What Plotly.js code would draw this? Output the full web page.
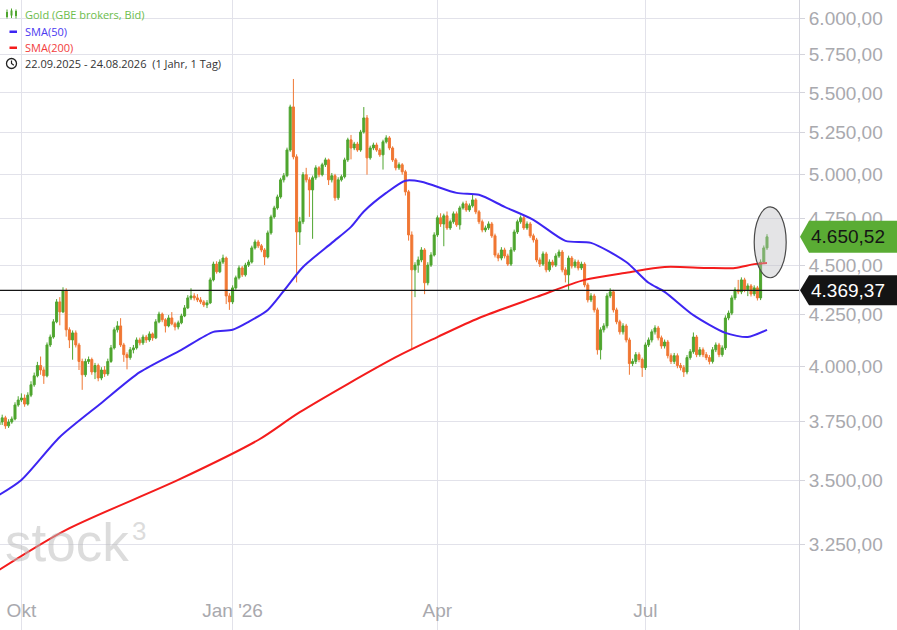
<!DOCTYPE html>
<html>
<head>
<meta charset="utf-8">
<script src="https://cdn.plot.ly/plotly-3.0.1.min.js"></script>
<style>
  html, body { margin: 0; padding: 0; background: #ffffff; }
  #chart { width: 897px; height: 630px; }
</style>
</head>
<body>
<div id="chart"></div>
<script>
// ---------- DATA ----------
const startDate = '2025-09-22';
const firstOpen = 3735;

const closes = [
  3748,3766,3731,3748,3761,3823,3845,3854,3827,3867,
  3914,3955,4003,3982,3955,4100,4138,4212,4311,4261,
  4367,4173,4124,4158,4100,4022,3960,4022,4031,3973,
  4003,3945,3982,3964,4022,4086,4173,4192,4100,4054,
  4040,4077,4086,4124,4110,4138,4124,4153,4134,4212,
  4250,4222,4192,4231,4202,4187,4207,4241,4281,4331,
  4341,4331,4321,4311,4296,4306,4423,4505,4465,4516,
  4537,4341,4311,4382,4434,4485,4449,4500,4516,4591,
  4623,4602,4580,4543,4672,4760,4810,4872,4970,4994,
  5146,5411,5105,4677,4733,5000,4970,4912,4982,5040,
  5000,5058,5087,4970,4994,4867,4970,4988,5087,5207,
  5158,5182,5146,5255,5342,5099,5158,5176,5146,5117,
  5195,5219,5158,5087,5040,5058,5017,4901,4661,4475,
  4500,4527,4580,4408,4500,4553,4661,4755,4721,4766,
  4699,4733,4777,4716,4810,4833,4799,4822,4855,4788,
  4733,4688,4699,4721,4656,4553,4537,4580,4548,4505,
  4580,4677,4733,4755,4699,4721,4656,4634,4527,4505,
  4559,4475,4516,4500,4548,4569,4475,4449,4537,4495,
  4516,4485,4505,4397,4321,4341,4271,4077,4173,4192,
  4341,4362,4271,4212,4163,4192,4124,4012,4022,4054,
  4031,3993,4100,4124,4163,4182,4134,4095,4114,4049,
  4022,4049,4003,3993,3973,4040,4068,4138,4054,4077,
  4054,4040,4022,4077,4100,4054,4086,4231,4255,4331,
  4372,4362,4423,4372,4392,4351,4382,4331,4516,4591,
  4650.52
];

const highs = [
  3762,3780,3775,3760,3772,3835,3862,3875,3870,3880,
  3930,3970,4020,4045,3995,4112,4150,4225,4325,4335,
  4385,4380,4185,4170,4170,4110,4035,4035,4045,4040,
  4015,4012,3995,4000,4035,4100,4185,4215,4230,4110,
  4065,4090,4100,4136,4135,4150,4148,4165,4160,4225,
  4262,4258,4230,4245,4260,4212,4218,4252,4295,4345,
  4380,4355,4350,4335,4320,4320,4435,4518,4520,4530,
  4555,4545,4355,4395,4445,4498,4495,4512,4528,4603,
  4636,4634,4612,4590,4685,4772,4822,4885,4982,5010,
  5160,5425,5590,5120,4760,5015,5040,4985,4995,5055,
  5050,5070,5100,5095,5010,5005,4985,5000,5100,5220,
  5237,5195,5195,5268,5410,5360,5172,5190,5190,5158,
  5208,5235,5230,5168,5098,5072,5068,5028,4912,4680,
  4515,4545,4595,4590,4515,4568,4675,4768,4780,4778,
  4790,4745,4790,4790,4822,4845,4850,4835,4885,4865,
  4798,4745,4712,4735,4732,4668,4565,4595,4592,4560,
  4595,4690,4745,4768,4766,4735,4732,4668,4645,4540,
  4572,4570,4530,4528,4562,4582,4580,4488,4550,4548,
  4530,4528,4518,4515,4408,4355,4352,4282,4185,4205,
  4355,4380,4372,4282,4222,4205,4202,4135,4035,4066,
  4065,4040,4112,4136,4175,4195,4192,4145,4126,4124,
  4060,4062,4060,4015,4005,4052,4080,4160,4148,4090,
  4088,4066,4052,4090,4112,4110,4098,4244,4268,4344,
  4385,4423,4436,4434,4405,4402,4395,4392,4530,4604,
  4665
];

const lows = [
  3680,3735,3718,3722,3740,3755,3815,3836,3815,3820,
  3858,3905,3948,3960,3918,3948,4090,4130,4205,4195,
  4255,4140,4085,4030,4088,3982,3891,3950,4010,3960,
  3940,3930,3935,3950,3955,4015,4078,4160,4090,4020,
  3985,4030,4060,4078,4098,4100,4110,4115,4120,4128,
  4205,4210,4160,4185,4195,4170,4175,4200,4235,4275,
  4320,4318,4310,4300,4285,4280,4300,4415,4455,4458,
  4505,4300,4271,4300,4372,4425,4438,4440,4490,4508,
  4582,4590,4568,4500,4535,4662,4750,4800,4862,4955,
  4985,5135,5090,4410,4607,4720,4955,4760,4640,4970,
  4985,4990,5045,4940,4955,4850,4855,4960,4978,5075,
  5090,5145,5135,5135,5245,5000,5088,5145,5135,5105,
  5030,5185,5145,5075,5025,5028,5000,4880,4630,4080,
  4335,4460,4515,4350,4395,4490,4545,4650,4705,4600,
  4688,4688,4722,4705,4690,4800,4788,4788,4812,4775,
  4720,4675,4676,4688,4645,4540,4520,4525,4535,4495,
  4495,4570,4666,4722,4688,4688,4645,4620,4515,4490,
  4495,4462,4465,4488,4490,4538,4462,4410,4372,4482,
  4484,4472,4474,4385,4308,4310,4258,4054,4031,4160,
  4180,4330,4258,4200,4150,4150,4112,3960,4000,4010,
  4018,3950,3982,4090,4112,4150,4122,4082,4083,4036,
  4010,4010,3990,3980,3950,3962,4030,4058,4042,4044,
  4042,4028,4008,4012,4066,4042,4044,4076,4220,4245,
  4320,4350,4350,4360,4340,4338,4340,4318,4320,4505,
  4580
];

const sma50Dates = ['2025-09-22','2025-10-01','2025-10-17','2025-11-05','2025-11-21','2025-12-10','2025-12-24',
  '2026-01-01','2026-01-08','2026-01-16','2026-01-23','2026-02-02','2026-02-13','2026-02-23','2026-02-27',
  '2026-03-10','2026-03-18','2026-03-25','2026-04-09','2026-04-20','2026-04-30','2026-05-13','2026-05-27',
  '2026-06-08','2026-06-23','2026-07-02','2026-07-09','2026-07-22','2026-08-05','2026-08-14','2026-08-24'];
const sma50Values = [3442,3503,3683,3832,3972,4077,4163,
  4173,4212,4271,4367,4490,4618,4705,4790,
  4895,4965,4959,4895,4884,4816,4744,4629,
  4618,4516,4408,4362,4245,4158,4138,4173];

const sma200Dates = ['2025-09-22','2025-10-21','2025-12-09','2026-01-13','2026-01-30','2026-03-13','2026-04-01',
  '2026-04-20','2026-05-14','2026-06-04','2026-06-23','2026-07-09','2026-07-28','2026-08-10','2026-08-18','2026-08-24'];
const sma200Values = [3154,3305,3503,3670,3791,4042,4138,
  4231,4336,4423,4460,4490,4485,4485,4505,4511];

const yTickValues = [3000,3250,3500,3750,4000,4250,4500,4750,5000,5250,5500,5750,6000];
const xTickDates = ['2025-10-01','2026-01-01','2026-04-01','2026-07-01'];
const xTickLabels = ['Okt', "Jan '26", 'Apr', 'Jul'];

const lineLevel = 4369.37;        // horizontal marker line
const lastPrice = 4650.52;        // current price tag
const highlightFrom = '2026-08-18', highlightTo = '2026-09-01';
const highlightLow = 4434, highlightHigh = 4816;

const legendTitle = 'Gold (GBE brokers, Bid)';
const legendSma50 = 'SMA(50)';
const legendSma200 = 'SMA(200)';
const legendRange = '22.09.2025 - 24.08.2026  (1 Jahr, 1 Tag)';
const watermarkWord = 'stock';
const watermarkMark = '3';

// ---------- BUILD ----------
const NOON = ' 12:00';
function tradingDays(start, n) {
  const out = [];
  const d = new Date(start + 'T12:00:00Z');
  while (out.length < n) {
    const wd = d.getUTCDay();
    if (wd !== 0 && wd !== 6) out.push(d.toISOString().slice(0, 10) + NOON);
    d.setUTCDate(d.getUTCDate() + 1);
  }
  return out;
}
const dates = tradingDays(startDate, closes.length);
const opens = closes.map((c, i) => i === 0 ? firstOpen : closes[i - 1]);

function de(v) {
  const s = v.toFixed(2).split('.');
  return s[0].replace(/\B(?=(\d{3})+(?!\d))/g, '.') + ',' + s[1];
}

const GREEN = '#4fa52f', ORANGE = '#f07733', BLUE = '#3d25f2', RED = '#f41c1c';
const FONT = 'Liberation Sans, Arial, sans-serif';
const LFONT = 'Open Sans, Noto Sans, sans-serif';

const traces = [
  {
    type: 'scatter', mode: 'lines', x: sma200Dates.map(d => d + NOON), y: sma200Values,
    line: { color: RED, width: 2, shape: 'spline', smoothing: 0.8 }, hoverinfo: 'skip'
  },
  {
    type: 'scatter', mode: 'lines', x: sma50Dates.map(d => d + NOON), y: sma50Values,
    line: { color: BLUE, width: 2, shape: 'spline', smoothing: 0.7 }, hoverinfo: 'skip'
  },
  {
    type: 'candlestick', x: dates, open: opens, high: highs, low: lows, close: closes,
    increasing: { line: { color: GREEN, width: 1 }, fillcolor: GREEN },
    decreasing: { line: { color: ORANGE, width: 1 }, fillcolor: ORANGE },
    hoverinfo: 'skip'
  }
];

const W = 799, H = 630;
const px = x => x / W;
const py = y => 1 - y / H;

const shapes = [
  { type: 'circle', xref: 'x', yref: 'y', x0: highlightFrom + NOON, x1: highlightTo + NOON,
    y0: highlightLow, y1: highlightHigh, layer: 'above',
    fillcolor: 'rgba(190,190,195,0.42)', line: { color: '#4a4a4a', width: 1.2 } },
  { type: 'line', xref: 'paper', x0: 0, x1: 1, yref: 'y', y0: lineLevel, y1: lineLevel,
    line: { color: '#151515', width: 1.2 }, layer: 'above' },
  { type: 'path', xref: 'paper', xsizemode: 'pixel', xanchor: 1, yref: 'y', ysizemode: 'pixel',
    yanchor: lastPrice, path: 'M 1 0 L 10 16 L 98 16 L 98 -16 L 10 -16 Z',
    fillcolor: '#5aac34', line: { width: 0 }, layer: 'above' },
  { type: 'path', xref: 'paper', xsizemode: 'pixel', xanchor: 1, yref: 'y', ysizemode: 'pixel',
    yanchor: lineLevel, path: 'M 1 0 L 10 15 L 98 15 L 98 -15 L 10 -15 Z',
    fillcolor: '#141414', line: { width: 0 }, layer: 'above' },
  // legend icon: candles
  { type: 'line', xref: 'paper', yref: 'paper', x0: px(7), x1: px(7), y0: py(9.5), y1: py(18.5), line: { color: GREEN, width: 1 } },
  { type: 'rect', xref: 'paper', yref: 'paper', x0: px(6), x1: px(8), y0: py(12), y1: py(17), fillcolor: GREEN, line: { width: 0 } },
  { type: 'line', xref: 'paper', yref: 'paper', x0: px(11.5), x1: px(11.5), y0: py(8.5), y1: py(18), line: { color: GREEN, width: 1 } },
  { type: 'rect', xref: 'paper', yref: 'paper', x0: px(10.5), x1: px(12.5), y0: py(10.5), y1: py(15.5), fillcolor: GREEN, line: { width: 0 } },
  { type: 'line', xref: 'paper', yref: 'paper', x0: px(16), x1: px(16), y0: py(9.5), y1: py(18.5), line: { color: GREEN, width: 1 } },
  { type: 'rect', xref: 'paper', yref: 'paper', x0: px(15), x1: px(17), y0: py(11), y1: py(16), fillcolor: GREEN, line: { width: 0 } },
  // legend icons: SMA dashes
  { type: 'rect', xref: 'paper', yref: 'paper', x0: px(9.5), x1: px(17), y0: py(30.5), y1: py(33), fillcolor: BLUE, line: { width: 0 } },
  { type: 'rect', xref: 'paper', yref: 'paper', x0: px(9.5), x1: px(17), y0: py(46.5), y1: py(49), fillcolor: RED, line: { width: 0 } },
  // clock icon
  { type: 'circle', xref: 'paper', yref: 'paper', x0: px(6.5), x1: px(16.5), y0: py(58.5), y1: py(68.5),
    line: { color: '#222', width: 1.3 } },
  { type: 'path', xref: 'paper', yref: 'paper',
    path: `M ${px(11.5)} ${py(60.5)} L ${px(11.5)} ${py(63.5)} L ${px(13.8)} ${py(65.3)}`,
    line: { color: '#222', width: 1.2 } }
];

const annotations = [
  { xref: 'paper', yref: 'paper', x: px(23), y: py(14), xanchor: 'left', yanchor: 'middle', showarrow: false,
    text: legendTitle, font: { family: LFONT, size: 11, color: '#6cbd4c' } },
  { xref: 'paper', yref: 'paper', x: px(23), y: py(31), xanchor: 'left', yanchor: 'middle', showarrow: false,
    text: legendSma50, font: { family: LFONT, size: 11, color: '#4a39f0' } },
  { xref: 'paper', yref: 'paper', x: px(23), y: py(47.5), xanchor: 'left', yanchor: 'middle', showarrow: false,
    text: legendSma200, font: { family: LFONT, size: 11, color: '#f23c3c' } },
  { xref: 'paper', yref: 'paper', x: px(22.5), y: py(63.5), xanchor: 'left', yanchor: 'middle', showarrow: false,
    text: legendRange, font: { family: LFONT, size: 11, color: '#333333' } },
  // watermark
  { xref: 'paper', yref: 'paper', x: px(3), y: py(562), xanchor: 'left', yanchor: 'bottom', yshift: -12, showarrow: false,
    text: watermarkWord, font: { family: FONT, size: 53, color: 'rgba(185,185,185,0.5)' } },
  { xref: 'paper', yref: 'paper', x: px(130), y: py(531), xanchor: 'left', yanchor: 'middle', showarrow: false,
    text: watermarkMark, font: { family: FONT, size: 26, color: 'rgba(185,185,185,0.5)' } },
  // price tags
  { xref: 'paper', yref: 'y', x: 1, y: Math.log10(lastPrice), xanchor: 'left', yanchor: 'middle', xshift: 10,
    showarrow: false, text: de(lastPrice), font: { family: FONT, size: 19, color: '#151515' } },
  { xref: 'paper', yref: 'y', x: 1, y: Math.log10(lineLevel), xanchor: 'left', yanchor: 'middle', xshift: 10,
    showarrow: false, text: de(lineLevel), font: { family: FONT, size: 19, color: '#ffffff' } }
];

const layout = {
  width: 897, height: 630,
  margin: { l: 0, r: 98, t: 0, b: 0, pad: 0 },
  paper_bgcolor: '#ffffff', plot_bgcolor: '#ffffff',
  showlegend: false,
  separators: ',.',
  boxgap: 0.1,
  xaxis: {
    type: 'date',
    rangebreaks: [{ bounds: ['sat', 'mon'] }],
    range: ['2025-09-22 19:30', '2026-09-07 12:00'],
    rangeslider: { visible: false },
    tickvals: xTickDates.map(d => d + NOON), ticktext: xTickLabels,
    ticklabelposition: 'inside', ticks: '', ticklabelstandoff: 6,
    tickfont: { family: FONT, size: 19, color: '#a9a9ae' },
    showgrid: true, gridcolor: '#e2e2ea', gridwidth: 1,
    showline: false, zeroline: false, fixedrange: true
  },
  yaxis: {
    type: 'log', side: 'right',
    range: [Math.log10(2941), Math.log10(6129)],
    tickvals: yTickValues, tickformat: ',.2f',
    tickfont: { family: FONT, size: 19, color: '#a9a9ae' },
    ticks: 'outside', ticklen: 5, tickcolor: '#d4d4dc',
    showgrid: true, gridcolor: '#e2e2ea', gridwidth: 1,
    showline: true, linecolor: '#d4d4dc', linewidth: 1,
    zeroline: false, fixedrange: true
  },
  shapes: shapes,
  annotations: annotations
};

Plotly.newPlot('chart', traces, layout, { staticPlot: true, displayModeBar: false });
</script>
</body>
</html>
